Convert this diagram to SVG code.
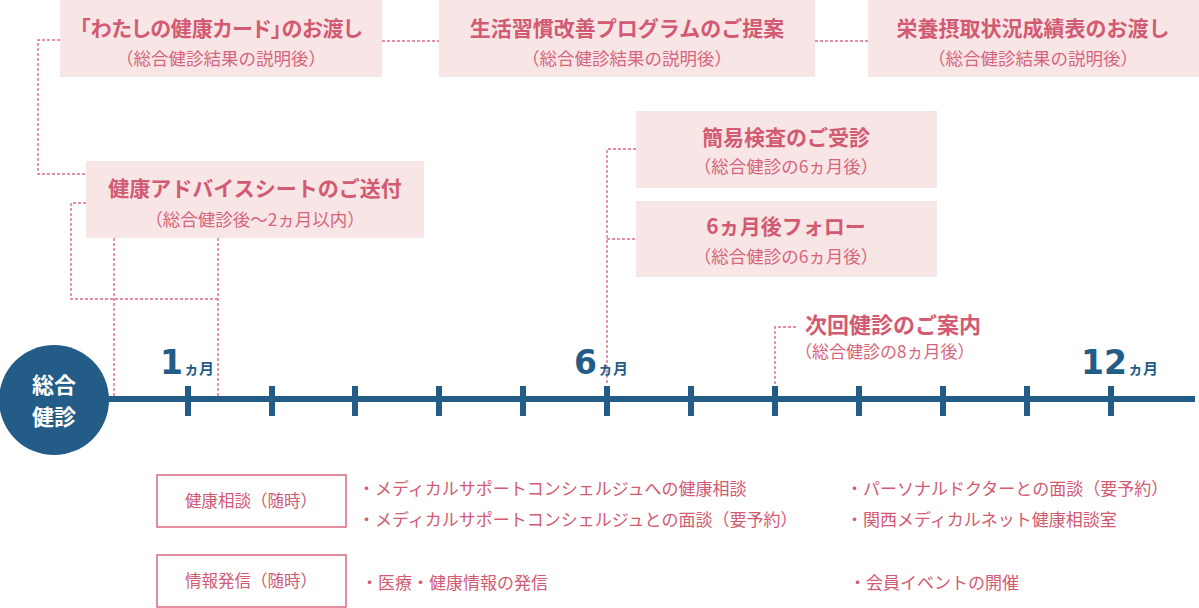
<svg xmlns="http://www.w3.org/2000/svg" width="1199" height="608" viewBox="0 0 1199 608">
<style>
.box{fill:#f8e5e6}
.t{font-family:"Noto Sans CJK JP","Noto Sans",sans-serif;fill:#d25a72;text-anchor:middle}
.ti{font-size:21px;font-weight:bold}
.st{font-size:17.5px;fill:#d6657c}
.dot{fill:none;stroke:#e06b82;stroke-width:1.4;stroke-dasharray:3 2}
.tl{stroke:#235d87;stroke-width:6;fill:none}
.num{font-family:"DejaVu Sans","Noto Sans",sans-serif;font-weight:bold;font-size:33px;fill:#235d87}
.km{font-family:"Noto Sans CJK JP",sans-serif;font-weight:bold;font-size:15px;fill:#235d87}
.lb{fill:#fff;stroke:#d9687f;stroke-width:1.5}
.bt{font-family:"Noto Sans CJK JP","Noto Sans",sans-serif;fill:#d25a72;font-size:17px}
.ct{font-family:"Noto Sans CJK JP",sans-serif;font-weight:bold;font-size:22px;fill:#fff;text-anchor:middle}
</style>
<g id="connectors">
<polyline class="dot" points="60,40 38,40 38,174 86,174"/>
<line class="dot" x1="382" y1="41" x2="439" y2="41"/>
<line class="dot" x1="815" y1="41" x2="868" y2="41"/>
<polyline class="dot" points="86,203 71,203 71,299 218,299"/>
<line class="dot" x1="114" y1="238" x2="114" y2="396"/>
<line class="dot" x1="218" y1="238" x2="218" y2="396"/>
<polyline class="dot" points="636,149 607,149 607,385"/>
<line class="dot" x1="607" y1="239" x2="636" y2="239"/>
<polyline class="dot" points="796,327 775,327 775,385"/>
</g>
<g id="card">
<rect class="box" x="60" y="0" width="322" height="77"/>
<text class="t ti" style="font-feature-settings:'palt'" x="221" y="36">「わたしの健康カード」のお渡し</text>
<text class="t st" x="221" y="65">（総合健診結果の説明後）</text>
</g>
<g id="program">
<rect class="box" x="439" y="0" width="376" height="77"/>
<text class="t ti" x="627" y="36">生活習慣改善プログラムのご提案</text>
<text class="t st" x="627" y="65">（総合健診結果の説明後）</text>
</g>
<g id="nutrition">
<rect class="box" x="868" y="0" width="331" height="77"/>
<text class="t ti" x="1033" y="36">栄養摂取状況成績表のお渡し</text>
<text class="t st" x="1033" y="65">（総合健診結果の説明後）</text>
</g>
<g id="advice">
<rect class="box" x="86" y="161" width="338" height="77"/>
<text class="t ti" x="255" y="196">健康アドバイスシートのご送付</text>
<text class="t st" x="255" y="226">（総合健診後～2ヵ月以内）</text>
</g>
<g id="kani">
<rect class="box" x="636" y="111" width="301" height="77"/>
<text class="t ti" x="786" y="145">簡易検査のご受診</text>
<text class="t st" x="786" y="173">（総合健診の6ヵ月後）</text>
</g>
<g id="follow">
<rect class="box" x="636" y="201" width="301" height="76"/>
<text class="t ti" x="786" y="234">6ヵ月後フォロー</text>
<text class="t st" x="786" y="263">（総合健診の6ヵ月後）</text>
</g>
<g id="next">
<text class="t" style="text-anchor:start;font-size:22px;font-weight:bold" x="805" y="333">次回健診のご案内</text>
<text class="t st" style="text-anchor:start;font-size:17px" x="795" y="358">（総合健診の8ヵ月後）</text>
</g>
<g id="timeline">
<line class="tl" x1="100" y1="399" x2="1195" y2="399"/>
<g class="tl">
<line x1="188" y1="386" x2="188" y2="416"/>
<line x1="272" y1="386" x2="272" y2="416"/>
<line x1="355" y1="386" x2="355" y2="416"/>
<line x1="439" y1="386" x2="439" y2="416"/>
<line x1="523" y1="386" x2="523" y2="416"/>
<line x1="607" y1="386" x2="607" y2="416"/>
<line x1="691" y1="386" x2="691" y2="416"/>
<line x1="775" y1="386" x2="775" y2="416"/>
<line x1="859" y1="386" x2="859" y2="416"/>
<line x1="943" y1="386" x2="943" y2="416"/>
<line x1="1027" y1="386" x2="1027" y2="416"/>
<line x1="1111" y1="386" x2="1111" y2="416"/>
</g>
<text x="160" y="374"><tspan class="num">1</tspan><tspan class="km" dx="1">ヵ月</tspan></text>
<text x="574" y="374"><tspan class="num">6</tspan><tspan class="km" dx="1">ヵ月</tspan></text>
<text x="1081" y="374"><tspan class="num">12</tspan><tspan class="km" dx="1">ヵ月</tspan></text>
</g>
<g id="start">
<circle cx="54" cy="400" r="55" fill="#235d87"/>
<text class="ct" x="54" y="393">総合</text>
<text class="ct" x="54" y="425">健診</text>
</g>
<g id="consult">
<rect class="lb" x="157" y="475" width="189" height="52"/>
<text class="t" style="font-size:16.5px" x="251" y="507">健康相談（随時）</text>
<text class="bt" x="358" y="495">・メディカルサポートコンシェルジュへの健康相談</text>
<text class="bt" x="358" y="526">・メディカルサポートコンシェルジュとの面談（要予約）</text>
<text class="bt" x="846" y="495">・パーソナルドクターとの面談（要予約）</text>
<text class="bt" x="846" y="526">・関西メディカルネット健康相談室</text>
</g>
<g id="info">
<rect class="lb" x="157" y="555" width="189" height="52"/>
<text class="t" style="font-size:16.5px" x="251" y="587">情報発信（随時）</text>
<text class="bt" x="361" y="589">・医療・健康情報の発信</text>
<text class="bt" x="849" y="589">・会員イベントの開催</text>
</g>
</svg>
